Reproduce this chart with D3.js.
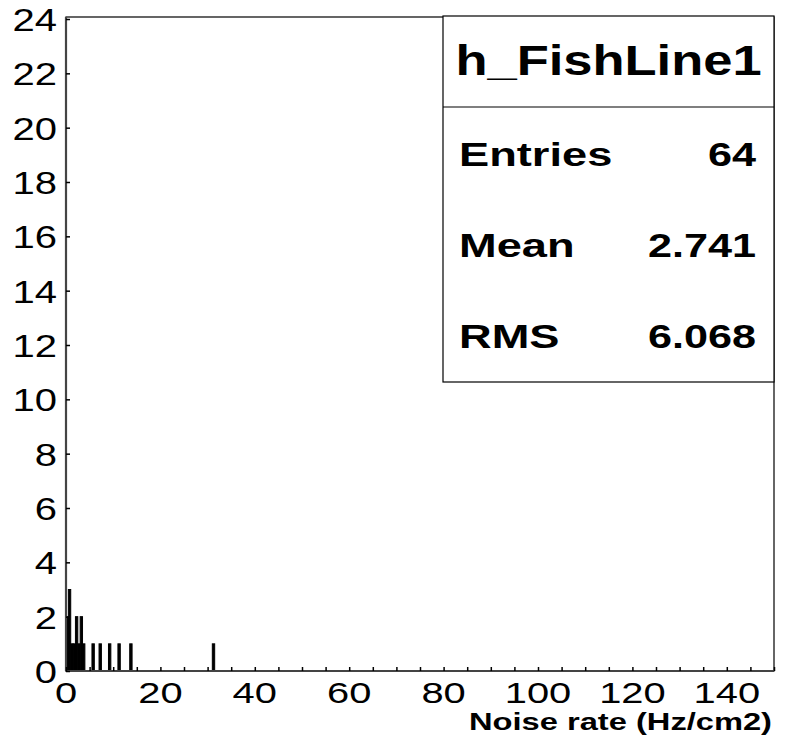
<!DOCTYPE html>
<html>
<head>
<meta charset="utf-8">
<title>h_FishLine1</title>
<script src="https://cdn.jsdelivr.net/npm/d3@7"></script>
<style>
  body { margin: 0; background: #fff; }
  text { font-family: "Liberation Sans", Arial, sans-serif; fill: #000; }
</style>
</head>
<body>
<script>
// histogram content: low edge of each non-empty bin and its count
var binWidth = 0.5;
var binStart = [0, 0.5, 1.0, 1.5, 2.0, 2.5, 3.0, 3.5, 5.5, 7.0, 9.0, 11.0, 13.5, 31.0];
var binCount = [2, 3, 1, 1, 2, 1, 2, 1, 1, 1, 1, 1, 1, 1];

var xTicks = [0, 20, 40, 60, 80, 100, 120, 140];
var yTicks = [0, 2, 4, 6, 8, 10, 12, 14, 16, 18, 20, 22, 24];

var statNames = ["Entries", "Mean", "RMS"];
var statValues = ["64", "2.741", "6.068"];
var histTitle = "h_FishLine1";
var xTitle = "Noise rate (Hz/cm2)";

var W = 786, H = 739;
var padL = 66, padR = 774, padT = 17, padB = 671;

var svg = d3.select("body").append("svg")
    .attr("width", W)
    .attr("height", H);

var x = d3.scaleLinear().domain([0, 150]).range([padL, padR]);
var y = d3.scaleLinear().domain([0, 24]).range([padB, padT + 2]);

// stretched text helper (the picture is stretched sideways)
function label(g, str, px, py, size, sx, anchor, weight) {
  return g.append("text")
      .attr("transform", "translate(" + px + "," + py + ") scale(" + sx + ",1)")
      .attr("text-anchor", anchor)
      .style("font-size", size + "px")
      .style("font-weight", weight || "normal")
      .text(str);
}

// bars
var bins = binStart.map(function(s, i) { return {x0: s, x1: s + binWidth, n: binCount[i]}; });
svg.append("g").selectAll("rect")
    .data(bins)
    .enter()
    .append("rect")
      .attr("x", function(d) { return x(d.x0); })
      .attr("width", function(d) { return x(d.x1) - x(d.x0); })
      .attr("y", function(d) { return y(d.n); })
      .attr("height", function(d) { return y(0) - y(d.n); })
      .attr("fill", "#000")
      .attr("stroke", "#000")
      .attr("stroke-width", 1);

// frame
svg.append("rect")
    .attr("x", padL).attr("y", padT)
    .attr("width", padR - padL).attr("height", padB - padT)
    .attr("fill", "none")
    .attr("stroke", "#000")
    .attr("stroke-width", 1.2);
svg.append("line")
    .attr("x1", padL).attr("x2", padL).attr("y1", padT).attr("y2", padB)
    .attr("stroke", "#444").attr("stroke-width", 2.2);
svg.append("line")
    .attr("x1", padL).attr("x2", padR).attr("y1", padB).attr("y2", padB)
    .attr("stroke", "#444").attr("stroke-width", 2.2);

// x axis ticks every 5, pointing up
var xAxis = d3.axisBottom(x)
    .tickValues(d3.range(0, 151, 5))
    .tickSize(-4)
    .tickFormat("");
var gx = svg.append("g").attr("transform", "translate(0," + padB + ")").call(xAxis);
gx.select(".domain").remove();
gx.selectAll(".tick line").attr("stroke", "#000").attr("stroke-width", 1.5);

var yAxis = d3.axisLeft(y)
    .tickValues(yTicks)
    .tickSize(-4)
    .tickFormat("");
var gy = svg.append("g").attr("transform", "translate(" + padL + ",0)").call(yAxis);
gy.select(".domain").remove();
gy.selectAll(".tick line").attr("stroke", "#000").attr("stroke-width", 1.5);

// tick labels
var labels = svg.append("g");
xTicks.forEach(function(t) { label(labels, t, x(t), 703, 30, 1.33, "middle"); });
yTicks.forEach(function(t) { label(labels, t, 57, y(t) + 12, 32, 1.25, "end"); });

label(labels, xTitle, 772, 730, 23, 1.42, "end", "bold");

// stats box
var bx0 = 443, bx1 = 774, by0 = 16, by1 = 382, bdiv = 107;
var box = svg.append("g");
box.append("rect")
    .attr("x", bx0).attr("y", by0)
    .attr("width", bx1 - bx0).attr("height", by1 - by0)
    .attr("fill", "#fff").attr("stroke", "#000").attr("stroke-width", 1.2);
box.append("line")
    .attr("x1", bx0).attr("x2", bx1).attr("y1", bdiv).attr("y2", bdiv)
    .attr("stroke", "#000").attr("stroke-width", 1.2);
label(box, histTitle, (bx0 + bx1) / 2, 75, 42, 1.25, "middle", "bold");

var rowY = d3.scalePoint().domain(statNames).range([166, 348]);
statNames.forEach(function(n, i) {
  label(box, n, 459, rowY(n), 34, 1.33, "start", "bold");
  label(box, statValues[i], 756, rowY(n), 34, 1.27, "end", "bold");
});
</script>
</body>
</html>
